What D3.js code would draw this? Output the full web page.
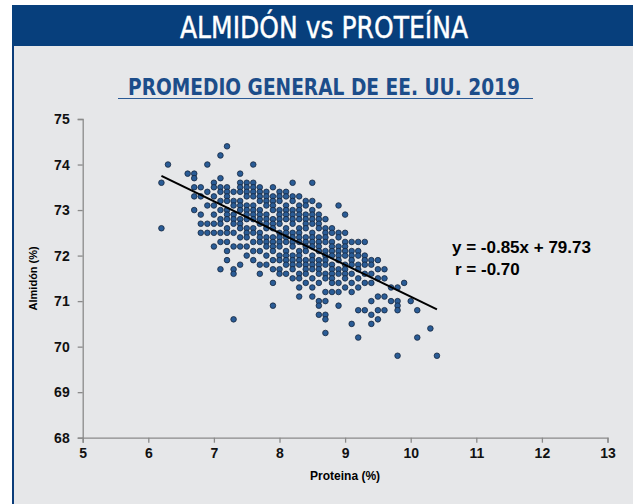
<!DOCTYPE html>
<html>
<head>
<meta charset="utf-8">
<script src="https://cdn.jsdelivr.net/npm/d3@7"></script>
<style>
  body { margin: 0; background: #fff; }
  svg { display: block; }
</style>
</head>
<body>
<script>
// Datos: por cada valor de proteína, los valores de almidón
var proteinas = [6.2, 6.3, 6.6, 6.7, 6.8, 6.9, 7.0, 7.1, 7.2, 7.3, 7.4, 7.5, 7.6, 7.7, 7.8, 7.9,
  8.0, 8.1, 8.2, 8.3, 8.4, 8.5, 8.6, 8.7, 8.8, 8.9, 9.0, 9.1, 9.2, 9.3, 9.4, 9.5, 9.6, 9.7,
  9.8, 9.9, 10.0, 10.1, 10.3, 10.4];

var almidones = [
  [73.6, 72.6],
  [74.0],
  [73.8],
  [73.8, 73.7, 73.5, 73.3, 73.0],
  [73.5, 73.3, 72.9, 72.7, 72.5],
  [74.0, 73.4, 73.1, 72.7, 72.5],
  [73.6, 73.5, 73.3, 73.1, 72.9, 72.7, 72.5, 72.2],
  [74.2, 73.7, 73.5, 73.4, 73.2, 73.0, 72.8, 72.7, 72.5, 72.3, 71.7],
  [74.4, 73.5, 73.4, 73.3, 73.2, 73.0, 72.9, 72.8, 72.6, 72.5, 72.3, 72.1, 71.9],
  [73.4, 73.2, 73.1, 72.9, 72.8, 72.7, 72.5, 72.2, 71.7, 71.6, 70.6],
  [73.8, 73.6, 73.5, 73.4, 73.2, 73.1, 73.0, 72.8, 72.7, 72.6, 72.4, 72.2, 71.8],
  [73.6, 73.5, 73.4, 73.3, 73.1, 73.0, 72.9, 72.8, 72.6, 72.5, 72.4, 72.2, 72.0],
  [74.0, 73.6, 73.5, 73.4, 73.3, 73.1, 73.0, 72.9, 72.8, 72.6, 72.5, 72.3, 72.1, 71.9],
  [73.5, 73.4, 73.3, 73.2, 73.0, 72.9, 72.8, 72.7, 72.5, 72.4, 72.3, 72.1, 71.8, 71.6],
  [73.4, 73.3, 73.2, 73.1, 72.9, 72.8, 72.7, 72.6, 72.4, 72.3, 72.2, 72.0, 71.8],
  [73.5, 73.3, 73.2, 73.1, 73.0, 72.8, 72.7, 72.6, 72.4, 72.3, 72.2, 72.1, 71.9, 71.7, 71.4, 70.9],
  [73.4, 73.3, 73.2, 73.0, 72.9, 72.8, 72.7, 72.5, 72.4, 72.3, 72.2, 72.0, 71.9, 71.7, 71.6],
  [73.4, 73.3, 73.1, 73.0, 72.9, 72.8, 72.6, 72.5, 72.4, 72.3, 72.1, 72.0, 71.9, 71.8, 71.6],
  [73.6, 73.3, 73.2, 73.0, 72.9, 72.8, 72.7, 72.5, 72.4, 72.3, 72.2, 72.0, 71.9, 71.8, 71.7, 71.5],
  [73.3, 73.1, 73.0, 72.9, 72.8, 72.6, 72.5, 72.4, 72.3, 72.1, 72.0, 71.9, 71.8, 71.6, 71.5, 71.3, 71.1],
  [73.2, 73.1, 72.9, 72.8, 72.7, 72.6, 72.4, 72.3, 72.2, 72.1, 71.9, 71.8, 71.7, 71.6, 71.4],
  [73.6, 73.2, 73.0, 72.9, 72.8, 72.7, 72.5, 72.4, 72.3, 72.2, 72.0, 71.9, 71.8, 71.7, 71.5, 71.3, 71.1],
  [73.1, 72.9, 72.8, 72.7, 72.6, 72.4, 72.3, 72.2, 72.1, 71.9, 71.8, 71.7, 71.6, 71.4, 71.0, 70.9, 70.7],
  [72.8, 72.6, 72.5, 72.4, 72.3, 72.1, 72.0, 71.9, 71.8, 71.6, 71.5, 71.2, 71.0, 70.7, 70.6, 70.3],
  [72.6, 72.5, 72.3, 72.2, 72.1, 72.0, 71.8, 71.7, 71.6, 71.5, 71.4, 71.2],
  [73.1, 72.5, 72.4, 72.2, 72.1, 72.0, 71.9, 71.7, 71.6, 71.4, 71.2, 70.9],
  [72.9, 72.5, 72.3, 72.2, 72.1, 72.0, 71.8, 71.7, 71.6, 71.5, 71.3],
  [72.3, 72.1, 72.0, 71.9, 71.8, 71.6, 71.4, 71.2, 70.5],
  [72.3, 72.1, 72.0, 71.8, 71.7, 71.5, 71.3, 70.8, 70.2],
  [72.3, 72.0, 71.9, 71.8, 71.6, 71.4, 70.8],
  [71.9, 71.8, 71.6, 71.4, 71.0, 70.7, 70.5],
  [71.9, 71.7, 71.5, 71.1, 70.8, 70.6],
  [71.7, 71.5, 71.1, 70.8],
  [71.3, 71.0],
  [71.3, 71.0, 70.9, 70.8, 69.8],
  [71.4],
  [71.0],
  [70.8, 70.2],
  [70.4],
  [69.8]
];

// Línea de tendencia (extremos)
var lineaX = [6.2, 10.4];
var lineaY = [73.75, 70.82];

var ticksX = [5, 6, 7, 8, 9, 10, 11, 12, 13];
var ticksY = [68, 69, 70, 71, 72, 73, 74, 75];

var titulo = "ALMIDÓN vs PROTEÍNA";
var subtitulo = "PROMEDIO GENERAL DE EE. UU. 2019";
var ecuacion = "y = -0.85x + 79.73";
var correlacion = "r = -0.70";

// juntamos en pares
var puntos = [];
proteinas.forEach(function(p, i) {
  almidones[i].forEach(function(a) { puntos.push({ p: p, a: a }); });
});

var W = 633, H = 504;
var svg = d3.select("body").append("svg")
  .attr("width", W)
  .attr("height", H);

// fondo del panel
svg.append("rect")
  .attr("x", 12).attr("y", 5)
  .attr("width", W - 12).attr("height", H - 5)
  .attr("fill", "#e6e7e9");
// borde izquierdo
svg.append("rect")
  .attr("x", 12).attr("y", 5)
  .attr("width", 2).attr("height", H - 5)
  .attr("fill", "#0b3d7a");
// barra de título
svg.append("rect")
  .attr("x", 12).attr("y", 5)
  .attr("width", W - 12).attr("height", 41)
  .attr("fill", "#073f7c");

var fuenteEstrecha = "'DejaVu Sans Condensed', 'Liberation Sans Narrow', sans-serif";

svg.append("text")
  .attr("x", 324).attr("y", 38)
  .attr("text-anchor", "middle")
  .attr("fill", "#fff")
  .attr("stroke", "#fff")
  .attr("stroke-width", 0.4)
  .attr("textLength", 288)
  .attr("lengthAdjust", "spacingAndGlyphs")
  .style("font-family", fuenteEstrecha)
  .style("font-size", "31px")
  .text(titulo);

svg.append("text")
  .attr("x", 324).attr("y", 95)
  .attr("text-anchor", "middle")
  .attr("fill", "#1c4d8a")
  .attr("textLength", 392)
  .attr("lengthAdjust", "spacingAndGlyphs")
  .style("font-family", fuenteEstrecha)
  .style("font-weight", "bold")
  .style("font-size", "23px")
  .text(subtitulo);

svg.append("line")
  .attr("x1", 118).attr("x2", 533)
  .attr("y1", 98.5).attr("y2", 98.5)
  .attr("stroke", "#2a5a96")
  .attr("stroke-width", 1);

// Escalas
var x = d3.scaleLinear().domain([5, 13]).range([82.7, 607.5]);
var y = d3.scaleLinear().domain([68, 75]).range([437.7, 119]);

var ejeX = svg.append("g")
  .attr("transform", "translate(0," + y(68) + ")")
  .call(d3.axisBottom(x).tickValues(ticksX).tickSize(5).tickPadding(5).tickFormat(d3.format("d")));
var ejeY = svg.append("g")
  .attr("transform", "translate(" + x(5) + ",0)")
  .call(d3.axisLeft(y).tickValues(ticksY).tickSize(5).tickPadding(8).tickFormat(d3.format("d")));

[ejeX, ejeY].forEach(function(g) {
  g.select(".domain").attr("stroke", "#8a8a8a").attr("stroke-width", 1.3);
  g.selectAll(".tick line").attr("stroke", "#8a8a8a").attr("stroke-width", 1.3);
  g.selectAll(".tick text")
    .attr("fill", "#111")
    .style("font-family", "'Liberation Sans', Arial, sans-serif")
    .style("font-weight", "bold")
    .style("font-size", "14px");
});

// Títulos de los ejes
svg.append("text")
  .attr("x", x(9)).attr("y", 480)
  .attr("text-anchor", "middle")
  .style("font-family", "'Liberation Sans', Arial, sans-serif")
  .style("font-weight", "bold")
  .style("font-size", "12px")
  .text("Proteina (%)");

svg.append("text")
  .attr("transform", "translate(37," + y(71.5) + ") rotate(-90)")
  .attr("text-anchor", "middle")
  .style("font-family", "'Liberation Sans', Arial, sans-serif")
  .style("font-weight", "bold")
  .style("font-size", "11px")
  .text("Almidón (%)");

// Puntos
var marcas = svg.append("g");
marcas.selectAll("circle")
  .data(puntos)
  .enter()
  .append("circle")
  .attr("cx", d => x(d.p))
  .attr("cy", d => y(d.a))
  .attr("r", 2.8)
  .attr("fill", "#2a5c96")
  .attr("stroke", "#14233a")
  .attr("stroke-width", 0.9)
  .attr("stroke-opacity", 0.85);

// Línea de tendencia
svg.append("line")
  .attr("x1", x(lineaX[0])).attr("y1", y(lineaY[0]))
  .attr("x2", x(lineaX[1])).attr("y2", y(lineaY[1]))
  .attr("stroke", "#000")
  .attr("stroke-width", 2);

// Ecuación
svg.append("text")
  .attr("x", 452).attr("y", 253)
  .style("font-family", "'Liberation Sans', Arial, sans-serif")
  .style("font-weight", "bold")
  .style("font-size", "17px")
  .text(ecuacion);
svg.append("text")
  .attr("x", 455).attr("y", 275)
  .style("font-family", "'Liberation Sans', Arial, sans-serif")
  .style("font-weight", "bold")
  .style("font-size", "17px")
  .text(correlacion);
</script>
</body>
</html>
